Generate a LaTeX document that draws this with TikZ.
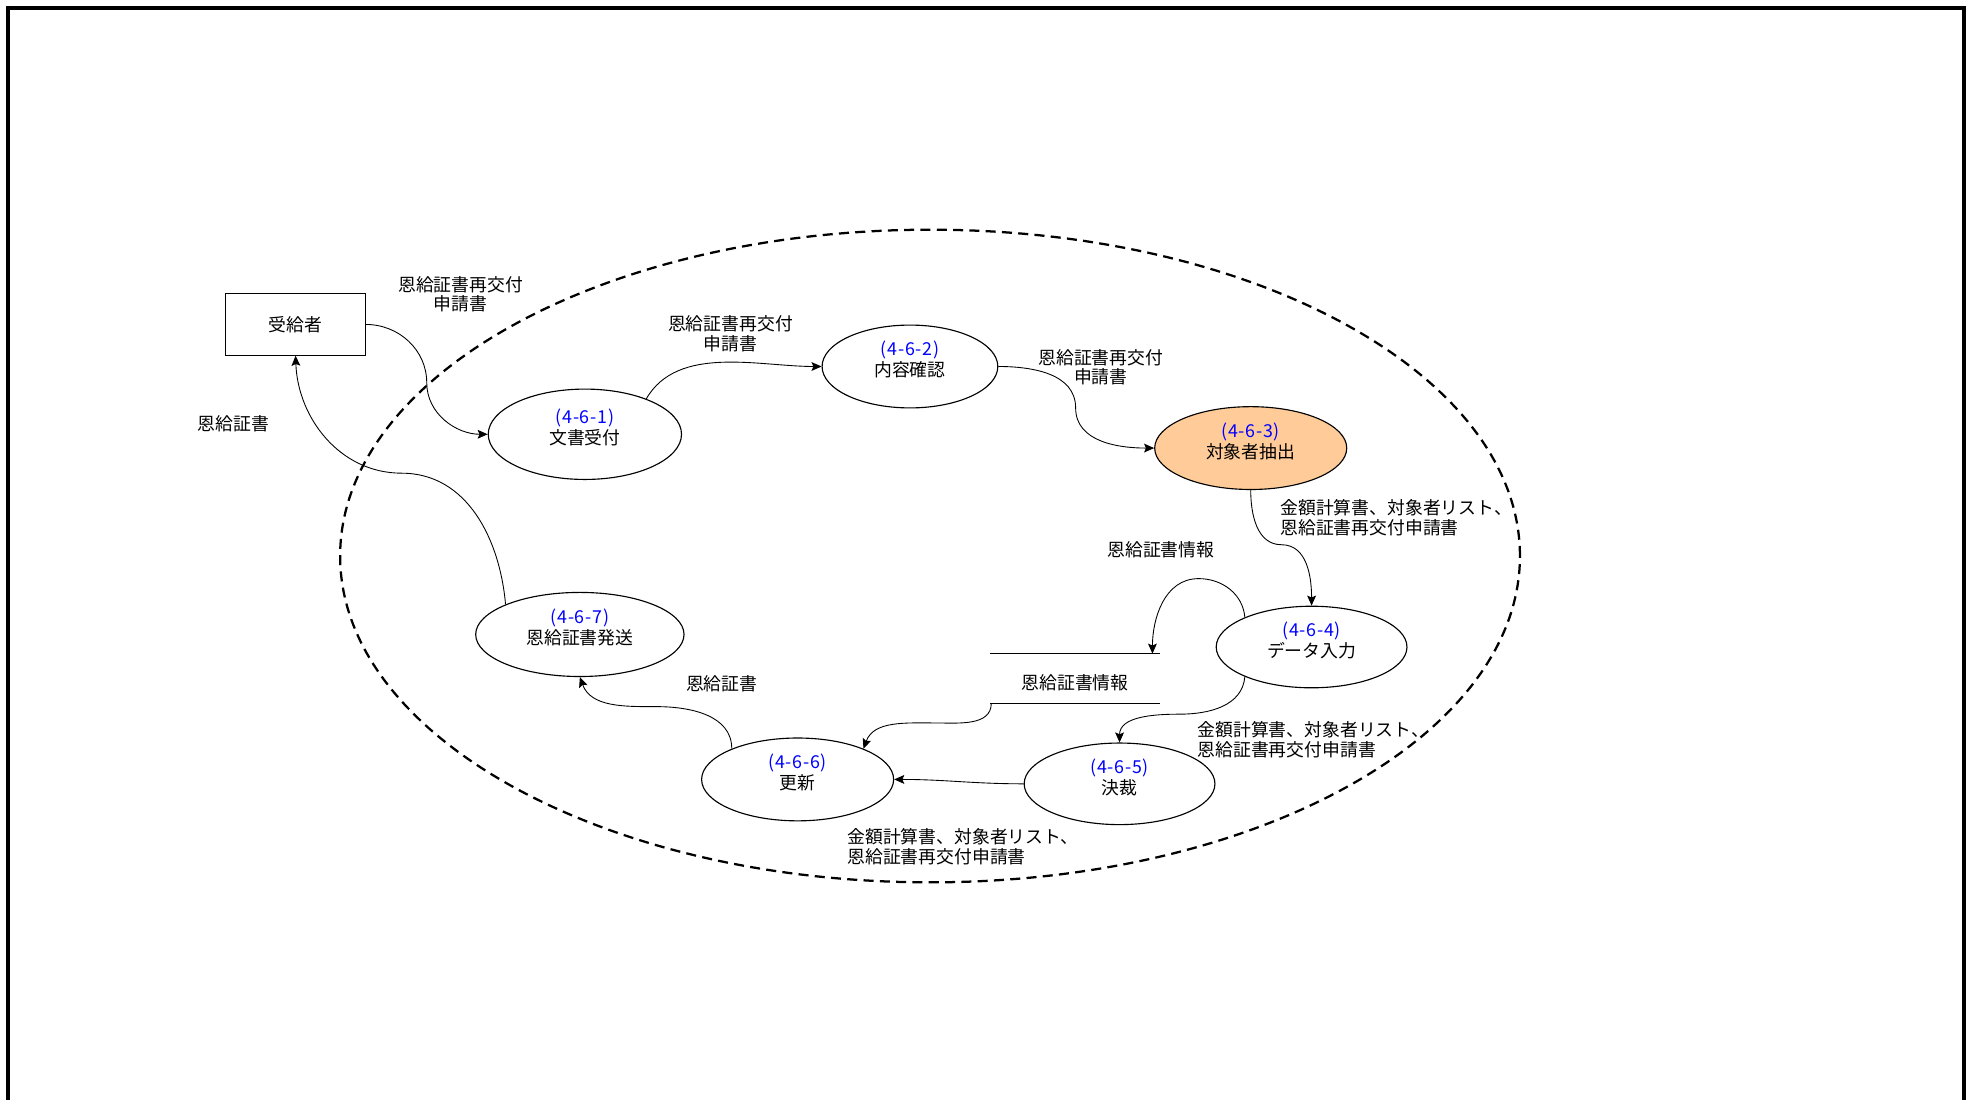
\documentclass[tikz,border=0pt]{standalone}
\usepackage{fontspec}
\setmainfont{Noto Sans CJK JP}
\usetikzlibrary{shapes.geometric, arrows.meta}

\definecolor{procblue}{HTML}{0000FF}
\definecolor{extractfill}{HTML}{FFCC99}

% process number over process name
\newcommand\proctext[2]{\smash{\begin{tabular}{@{}c@{}}%
  \textcolor{procblue}{\addfontfeature{LetterSpace=4}#1}\\#2\end{tabular}}}

\begin{document}
\begin{tikzpicture}[
  x=1pt, y=-1pt,
  font=\fontsize{14.2}{15.5}\selectfont,
  proc/.style={
    draw, ellipse, line width=0.9pt, inner sep=0pt,
    minimum width=153pt, minimum height=66pt
  },
  extract/.style={proc, fill=extractfill},
  actor/.style={
    draw, rectangle, line width=0.9pt,
    minimum width=111pt, minimum height=49pt
  },
  store/.style={minimum width=135pt, minimum height=39pt, inner sep=0pt,
    text height=17.6pt, text depth=0pt},
  flow/.style={-{Stealth[length=8pt, width=7pt, inset=1.5pt]}, line width=0.7pt},
  flowlabel/.style={align=center, inner sep=0pt},
  flowlabelleft/.style={align=left, anchor=west, inner sep=0pt},
  boundary/.style={dash pattern=on 8pt off 5pt, line width=1.8pt},
]
\useasboundingbox (0,0) rectangle (1568,876);

% frame
\draw[line width=3.2pt] (6.4,880) -- (6.4,6.4) -- (1564.8,6.4) -- (1564.8,880);

% system boundary
\draw[boundary] (741,443) ellipse [x radius=470pt, y radius=260pt];

% external entity and processes
\node[actor] (rcpt) at (235.5,258.5) {受給者};

\node[proc, minimum width=154pt, minimum height=72pt] (e1) at (466,346)
  {\proctext{(4-6-1)}{文書受付}};
\node[proc, minimum width=140pt] (e2) at (725,292)
  {\proctext{(4-6-2)}{内容確認}};
\node[extract] (e3) at (996.5,357)
  {\proctext{(4-6-3)}{対象者抽出}};
\node[proc, minimum width=152pt, minimum height=65pt] (e4) at (1045,515.5)
  {\proctext{(4-6-4)}{データ入力}};
\node[proc, minimum width=152pt, minimum height=65pt] (e5) at (892,624.5)
  {\proctext{(4-6-5)}{決裁}};
\node[proc] (e6) at (635.5,621)
  {\proctext{(4-6-6)}{更新}};
\node[proc, minimum width=166pt, minimum height=67pt] (e7) at (462,505.5)
  {\proctext{(4-6-7)}{恩給証書発送}};

% data store
\node[store] (db) at (856.5,540.5) {恩給証書情報};
\draw[line width=0.9pt] (db.north west) -- (db.north east);
\draw[line width=0.9pt] (db.south west) -- (db.south east);

% flow labels
\node[flowlabel] (l1) at (367,234.5) {恩給証書再交付\\申請書};
\node[flowlabel] (l2) at (582,266) {恩給証書再交付\\申請書};
\node[flowlabel] (l3) at (877,292.5) {恩給証書再交付\\申請書};
\node[flowlabelleft] (l4) at (1020,412.5) {金額計算書、対象者リスト、\\恩給証書再交付申請書};
\node[flowlabel] (l5) at (925,438) {恩給証書情報};
\node[flowlabelleft] (l6) at (954,589.5) {金額計算書、対象者リスト、\\恩給証書再交付申請書};
\node[flowlabel] (l7) at (575,545) {恩給証書};
\node[flowlabelleft] (l8) at (675,674.5) {金額計算書、対象者リスト、\\恩給証書再交付申請書};
\node[flowlabel] (l9) at (186,338) {恩給証書};

% flows
\draw[flow] (rcpt.east) to[out=0,in=90] (340,305) to[out=-90,in=180] (e1.west);
\draw[flow] (e1.30) to[out=60,in=180,looseness=0.9] (e2.west);
\draw[flow] (e2.east) to[out=0,in=90] (857,325) to[out=-90,in=180] (e3.west);
\draw[flow] (e3.south) to[out=-90,in=180] (1021,434) to[out=0,in=90] (e4.north);
\draw[flow] (e4.156) to[out=95,in=0] (955,461) to[out=180,in=90] ([xshift=-6pt]db.north east);
\draw[flow] (e4.204) to[out=-95,in=0] (940,569) to[out=180,in=90] (e5.north);
\draw[flow] (e5.west) to[out=180,in=0] (e6.east);
\draw[flow] ([xshift=1pt]db.south west) to[out=-90,in=0] (745,576) to[out=180,in=70] (e6.25);
\draw[flow] (e6.155) to[out=90,in=0] (523,563) to[out=180,in=-70] (e7.south);
\draw[flow] (e7.158) to[out=95,in=0] (320,377) to[out=180,in=-88] (rcpt.south);

\end{tikzpicture}
\end{document}
